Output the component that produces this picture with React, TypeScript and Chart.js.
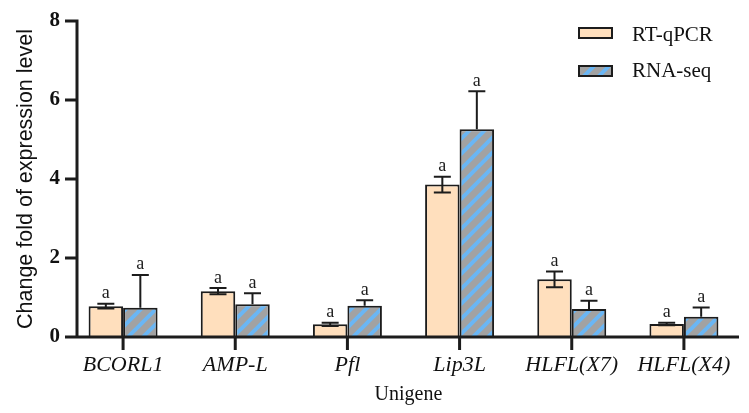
import React, { useEffect, useRef } from "react";
import { Chart, registerables } from "chart.js";

Chart.register(...registerables);

// Relative expression of the selected unigenes
const categories = ["BCORL1", "AMP-L", "Pfl", "Lip3L", "HLFL(X7)", "HLFL(X4)"];
const rtqpcrValues = [0.78, 1.16, 0.32, 3.86, 1.46, 0.33];
const rtqpcrErrors = [0.06, 0.08, 0.04, 0.2, 0.2, 0.03];
const rnaseqValues = [0.74, 0.83, 0.79, 5.26, 0.71, 0.51];
const rnaseqErrors = [0.83, 0.28, 0.14, 0.96, 0.21, 0.24];
const rtqpcrLetters = ["a", "a", "a", "a", "a", "a"];
const rnaseqLetters = ["a", "a", "a", "a", "a", "a"];
const yTicks = [0, 2, 4, 6, 8];

const INK = "#1c1c1c";
const PEACH = "#FFDFBD";
const GREY = "#A2A2A2";
const BLUE = "#6AB6F4";

function makeHatch(): CanvasPattern | string {
  const size = 15;
  const tile = document.createElement("canvas");
  tile.width = size;
  tile.height = size;
  const c = tile.getContext("2d");
  if (!c) return GREY;
  c.fillStyle = GREY;
  c.fillRect(0, 0, size, size);
  c.strokeStyle = BLUE;
  c.lineWidth = 4;
  for (let k = -1; k <= 1; k++) {
    c.beginPath();
    c.moveTo(k * size - 2, size + 2);
    c.lineTo(k * size + size + 2, -2);
    c.stroke();
  }
  const p = c.createPattern(tile, "repeat");
  return p || GREY;
}

const overlay = {
  id: "overlay",
  afterDatasetsDraw(chart: any) {
    const ctx: CanvasRenderingContext2D = chart.ctx;
    const area = chart.chartArea;
    const y = chart.scales.y;
    const x = chart.scales.x;
    const axisX = area.left + 10;
    const zeroY = y.getPixelForValue(0);

    ctx.save();
    // error bars and significance letters
    const sets = [
      { meta: chart.getDatasetMeta(0), vals: rtqpcrValues, errs: rtqpcrErrors, letters: rtqpcrLetters, both: true },
      { meta: chart.getDatasetMeta(1), vals: rnaseqValues, errs: rnaseqErrors, letters: rnaseqLetters, both: false },
    ];
    ctx.strokeStyle = INK;
    ctx.lineWidth = 2;
    ctx.fillStyle = INK;
    ctx.font = '18px "Liberation Serif"';
    ctx.textAlign = "center";
    ctx.textBaseline = "alphabetic";
    for (const s of sets) {
      s.meta.data.forEach((bar: any, i: number) => {
        const cx = bar.x;
        const top = y.getPixelForValue(s.vals[i] + s.errs[i]);
        const bottom = y.getPixelForValue(s.both ? s.vals[i] - s.errs[i] : s.vals[i]);
        ctx.beginPath();
        ctx.moveTo(cx, top);
        ctx.lineTo(cx, bottom);
        ctx.moveTo(cx - 8.5, top);
        ctx.lineTo(cx + 8.5, top);
        if (s.both) {
          ctx.moveTo(cx - 8.5, bottom);
          ctx.lineTo(cx + 8.5, bottom);
        }
        ctx.stroke();
        ctx.fillText(s.letters[i], cx, top - 5.5);
      });
    }

    // axes
    ctx.lineWidth = 3;
    ctx.lineCap = "butt";
    ctx.beginPath();
    ctx.moveTo(axisX, y.getPixelForValue(8) - 1.5);
    ctx.lineTo(axisX, zeroY + 1.5);
    for (const t of yTicks) {
      const ty = y.getPixelForValue(t);
      ctx.moveTo(axisX - 12, ty);
      ctx.lineTo(axisX, ty);
    }
    ctx.moveTo(axisX - 12, zeroY);
    ctx.lineTo(area.right - 1, zeroY);
    categories.forEach((_, i) => {
      const tx = x.getPixelForValue(i);
      ctx.moveTo(tx, zeroY);
      ctx.lineTo(tx, zeroY + 13);
    });
    ctx.stroke();

    // axis titles
    ctx.fillStyle = "#111";
    ctx.font = '21.5px "Liberation Sans"';
    ctx.textAlign = "center";
    ctx.textBaseline = "middle";
    ctx.save();
    ctx.translate(26, 179);
    ctx.rotate(-Math.PI / 2);
    ctx.fillText("Change fold of expression level", 0, 0);
    ctx.restore();
    ctx.font = '20px "Liberation Serif"';
    ctx.textBaseline = "alphabetic";
    ctx.fillText("Unigene", (axisX + area.right) / 2, 400);

    // legend
    const entries = [
      { label: "RT-qPCR", fill: chart.data.datasets[0].backgroundColor, y: 28, base: 41 },
      { label: "RNA-seq", fill: chart.data.datasets[1].backgroundColor, y: 66, base: 77 },
    ];
    ctx.font = '21px "Liberation Serif"';
    ctx.textAlign = "left";
    for (const e of entries) {
      ctx.fillStyle = e.fill;
      ctx.fillRect(579, e.y, 33, 10);
      ctx.lineWidth = 2;
      ctx.strokeStyle = INK;
      ctx.strokeRect(579, e.y, 33, 10);
      ctx.fillStyle = "#111";
      ctx.fillText(e.label, 632, e.base);
    }
    ctx.restore();
  },
};

export default function App() {
  const ref = useRef<HTMLCanvasElement>(null);

  useEffect(() => {
    if (!ref.current) return;
    const hatch = makeHatch();
    const chart = new Chart(ref.current, {
      type: "bar",
      data: {
        labels: categories,
        datasets: [
          {
            label: "RT-qPCR",
            data: rtqpcrValues,
            backgroundColor: PEACH,
            borderColor: INK,
            borderWidth: 2,
            categoryPercentage: 0.615,
            barPercentage: 1,
          },
          {
            label: "RNA-seq",
            data: rnaseqValues,
            backgroundColor: hatch as any,
            borderColor: INK,
            borderWidth: 2,
            categoryPercentage: 0.615,
            barPercentage: 1,
          },
        ],
      },
      options: {
        responsive: false,
        animation: false,
        layout: { padding: { top: 21, right: 9, left: 0, bottom: 0 } },
        plugins: { legend: { display: false }, tooltip: { enabled: false } },
        scales: {
          x: {
            grid: { display: false, drawTicks: false },
            border: { display: false },
            ticks: {
              color: "#111",
              padding: 15,
              font: { family: "Liberation Serif", style: "italic", size: 22 },
            },
            afterFit: (s: any) => {
              s.height = 76;
            },
          },
          y: {
            min: 0,
            max: 8,
            grid: { display: false, drawTicks: false },
            border: { display: false },
            ticks: {
              stepSize: 2,
              color: "#111",
              padding: 7,
              font: { family: "Liberation Serif", weight: "bold", size: 21 },
            },
            afterFit: (s: any) => {
              s.width = 67;
            },
          },
        },
      },
      plugins: [overlay],
    });
    return () => chart.destroy();
  }, []);

  return (
    <div style={{ position: "fixed", left: 0, top: 0, width: 749, height: 413, background: "#fff" }}>
      <canvas ref={ref} width={749} height={413} />
    </div>
  );
}
